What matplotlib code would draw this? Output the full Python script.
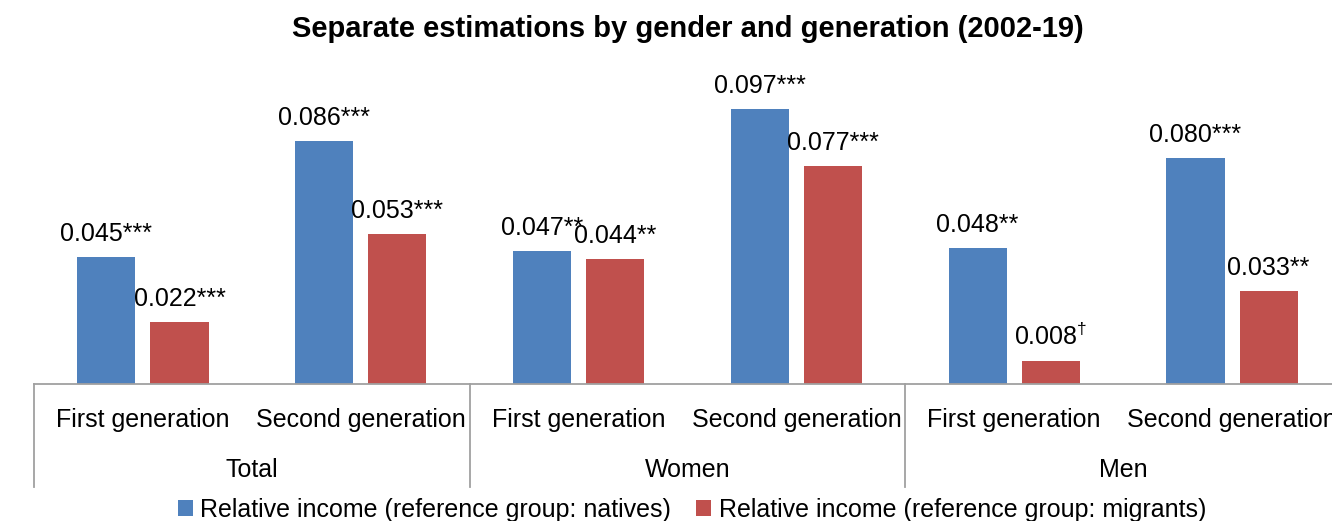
import matplotlib
matplotlib.use("Agg")
import matplotlib.pyplot as plt
from matplotlib.patches import Patch

categories = ["First generation", "Second generation"] * 3
groups = ["Total", "Women", "Men"]
natives = [0.045, 0.086, 0.047, 0.097, 0.048, 0.080]
migrants = [0.022, 0.053, 0.044, 0.077, 0.008, 0.033]
native_labels = ["0.045***", "0.086***", "0.047**", "0.097***", "0.048**", "0.080***"]
migrant_labels = ["0.022***", "0.053***", "0.044**", "0.077***", r"0.008$^{\dagger}$", "0.033**"]
series_names = ["Relative income (reference group: natives)",
                "Relative income (reference group: migrants)"]
title = "Separate estimations by gender and generation (2002-19)"

plt.rcParams['font.family'] = ['Liberation Sans', 'DejaVu Sans']
plt.rcParams['mathtext.fontset'] = 'custom'
plt.rcParams['mathtext.rm'] = 'Liberation Sans'

W, H = 1332, 521
fig = plt.figure(figsize=(W / 100, H / 100), dpi=100)
ax_left, ax_right, ax_bottom, ax_top = 34, 1341, 384, 101
ax = fig.add_axes([ax_left / W, 1 - ax_bottom / H, (ax_right - ax_left) / W, (ax_bottom - ax_top) / H])

blue = "#4F81BD"
red = "#C0504D"
gray = "#A0A0A0"
fs = 18

x = list(range(len(categories)))
bw = 0.267
off = 0.168
xb = [i - off for i in x]
xr = [i + off for i in x]
ax.bar(xb, natives, width=bw, color=blue)
ax.bar(xr, migrants, width=bw, color=red)
ax.set_xlim(-0.5, len(categories) - 0.5)
ax.set_ylim(0, 0.1)

for xi, v, lab in zip(xb, natives, native_labels):
    ax.annotate(lab, (xi, v), xytext=(0, 16), textcoords='offset pixels',
                ha='center', va='baseline', fontsize=fs, annotation_clip=False)
for xi, v, lab in zip(xr, migrants, migrant_labels):
    ax.annotate(lab, (xi, v), xytext=(0, 16), textcoords='offset pixels',
                ha='center', va='baseline', fontsize=fs, annotation_clip=False)

for s in ['top', 'right', 'left']:
    ax.spines[s].set_visible(False)
ax.spines['bottom'].set_color(gray)
ax.spines['bottom'].set_linewidth(1.3)
ax.set_yticks([])
ax.set_xticks([])

trans = ax.get_xaxis_transform()
ph = ax_bottom - ax_top
for xi, c in zip(x, categories):
    ax.annotate(c, (xi, 0), xycoords=trans, xytext=(0, -43), textcoords='offset pixels',
                ha='center', va='baseline', fontsize=fs, annotation_clip=False)
for gi, g in enumerate(groups):
    ax.annotate(g, (2 * gi + 0.5, 0), xycoords=trans, xytext=(0, -93), textcoords='offset pixels',
                ha='center', va='baseline', fontsize=fs, annotation_clip=False)
for sx in [-0.5, 1.5, 3.5, 5.5]:
    ax.plot([sx, sx], [0, -103 / ph], transform=trans, color=gray, lw=1.3, clip_on=False)

ax.annotate(title, (0.5, 1), xycoords='axes fraction', xytext=(0, ax_top - 37),
            textcoords='offset pixels', ha='center', va='baseline',
            fontsize=21, fontweight='bold', annotation_clip=False)

handles = [Patch(facecolor=blue), Patch(facecolor=red)]
fig.legend(handles, series_names, loc='center', bbox_to_anchor=(692 / W, 1 - 510 / H),
           ncol=2, frameon=False, fontsize=fs, handlelength=0.6, handleheight=0.6,
           handletextpad=0.3, columnspacing=1.0, borderaxespad=0, borderpad=0)

fig.savefig("out.png", dpi=100)
